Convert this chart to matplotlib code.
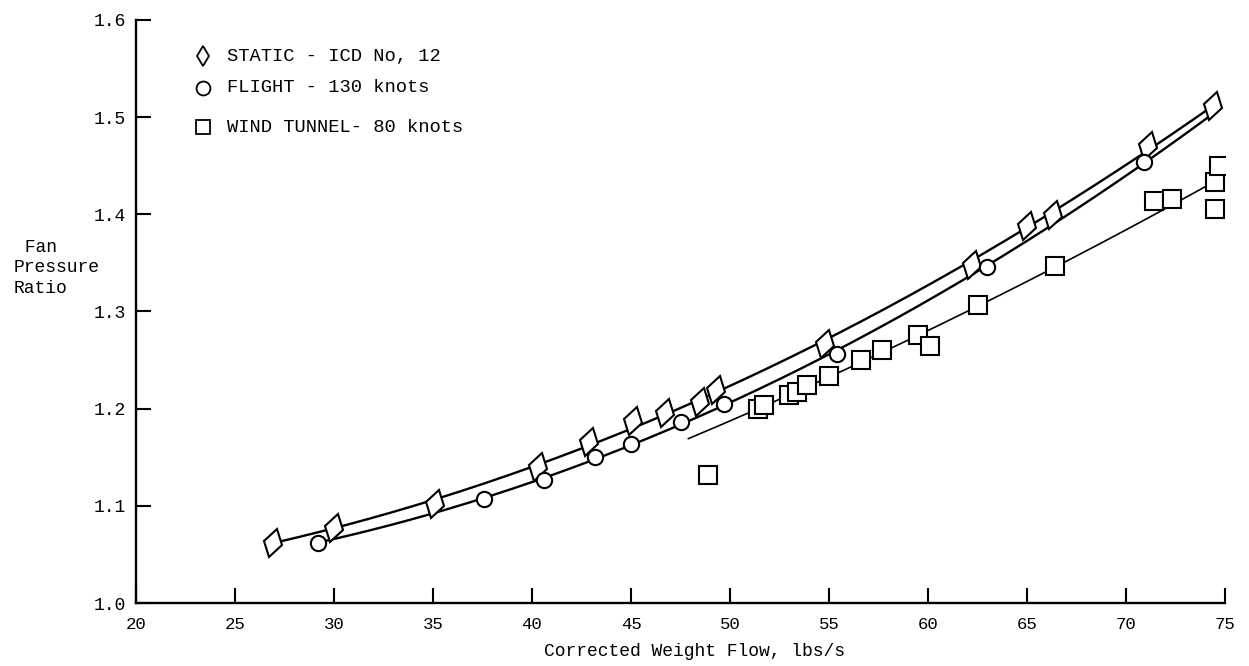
import matplotlib
matplotlib.use("Agg")
import matplotlib.pyplot as plt
from matplotlib.lines import Line2D
from matplotlib.markers import MarkerStyle
from matplotlib.transforms import Affine2D
import numpy as np

# values
static_flow = [26.9, 30.0, 35.1, 40.3, 42.9, 45.1, 46.7, 48.5, 49.3, 54.8, 62.2, 65.0, 66.3, 71.1, 74.4]
static_fpr = [1.062, 1.077, 1.102, 1.140, 1.166, 1.187, 1.196, 1.207, 1.219, 1.267, 1.348, 1.388, 1.399, 1.470, 1.512]

flight_flow = [29.2, 37.6, 40.6, 43.2, 45.0, 47.5, 49.7, 55.4, 63.0, 70.9]
flight_fpr = [1.062, 1.107, 1.127, 1.150, 1.164, 1.186, 1.205, 1.256, 1.346, 1.454]

tunnel_flow = [48.9, 51.4, 51.7, 53.0, 53.4, 53.9, 55.0, 56.6, 57.7, 59.5, 60.1, 62.5, 66.4, 71.4, 72.3, 74.5, 74.7, 74.5]
tunnel_fpr = [1.132, 1.200, 1.204, 1.214, 1.217, 1.224, 1.234, 1.250, 1.260, 1.276, 1.264, 1.307, 1.347, 1.414, 1.416, 1.433, 1.450, 1.406]

# span of the faired curves
static_span = (26.9, 74.3)
flight_span = (29.3, 74.3)
tunnel_span = (47.9, 74.1)

labels = ['STATIC - ICD No, 12', 'FLIGHT - 130 knots', 'WIND TUNNEL- 80 knots']
xticks = [20, 25, 30, 35, 40, 45, 50, 55, 60, 65, 70, 75]
yticks = [1.0, 1.1, 1.2, 1.3, 1.4, 1.5, 1.6]

MONO = 'Liberation Mono'
W, H = 1249, 666


def faired(ax, x, y, span, lw, keep=None):
    x = np.asarray(x)
    y = np.asarray(y)
    if keep is not None:
        m = keep(x)
        x, y = x[m], y[m]
    c = np.polyfit(x, y, 2)
    xs = np.linspace(span[0], span[1], 200)
    ax.plot(xs, np.polyval(c, xs), color='black', lw=lw, zorder=2)


fig = plt.figure(figsize=(W / 100, H / 100), dpi=100)
fig.patch.set_facecolor('white')
ax = fig.add_axes([136 / W, 63 / H, 1089 / W, 583 / H])

faired(ax, static_flow, static_fpr, static_span, 1.7)
faired(ax, flight_flow, flight_fpr, flight_span, 1.7)
faired(ax, tunnel_flow, tunnel_fpr, tunnel_span, 1.2, keep=lambda x: x > 50)

lean = MarkerStyle('d', transform=Affine2D().rotate_deg(-15))
ax.plot(static_flow, static_fpr, ls='none', marker=lean, ms=15,
        mfc='white', mec='black', mew=1.5, zorder=3)
ax.plot(flight_flow, flight_fpr, ls='none', marker='o', ms=11,
        mfc='white', mec='black', mew=1.5, zorder=3)
ax.plot(tunnel_flow, tunnel_fpr, ls='none', marker='s', ms=12.5,
        mfc='white', mec='black', mew=1.5, zorder=3)

ax.set_xlim(20, 75)
ax.set_ylim(1.0, 1.6)
for s in ['top', 'right']:
    ax.spines[s].set_visible(False)
for s in ['left', 'bottom']:
    ax.spines[s].set_linewidth(1.7)

ax.set_xticks(xticks)
ax.set_yticks(yticks)
ax.set_xticklabels([str(t) for t in xticks], fontfamily=MONO, fontsize=12.5)
ax.set_yticklabels([f'{t:.1f}' for t in yticks], fontfamily=MONO, fontsize=13)
ax.tick_params(axis='x', direction='in', length=11, width=1.5, pad=10)
ax.tick_params(axis='y', direction='in', length=11, width=1.5, pad=7)

ax.set_xlabel('Corrected Weight Flow, lbs/s', fontfamily=MONO, fontsize=13)
ax.xaxis.set_label_coords((695 - 136) / 1089, -0.068)
fig.text(14 / W, 1 - 268 / H, ' Fan\nPressure\nRatio', ha='left', va='center',
         fontfamily=MONO, fontsize=13, linespacing=1.3)

# key in the upper left
key_marks = [MarkerStyle('d'), 'o', 's']
key_rows = [56, 88, 127]
for m, lab, row in zip(key_marks, labels, key_rows):
    yf = 1 - row / H
    fig.add_artist(Line2D([203 / W], [yf], ls='none', marker=m, ms=10,
                          mfc='white', mec='black', mew=1.3,
                          transform=fig.transFigure))
    fig.text(227 / W, yf, lab, ha='left', va='center', fontfamily=MONO, fontsize=13.5)

plt.savefig('out.png', dpi=100, facecolor='white')
